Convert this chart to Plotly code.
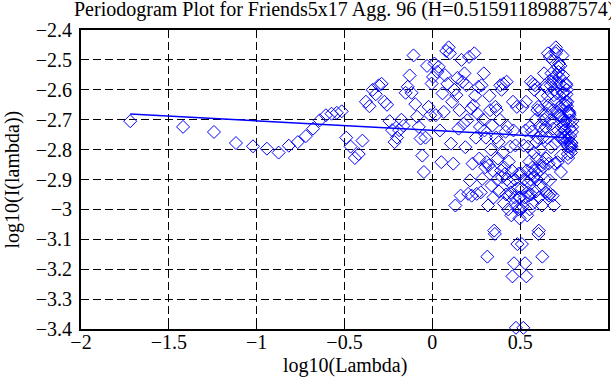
import plotly.graph_objects as go

# log10 of Fourier frequencies in (0, pi]
freq_low = [
    -1.720, -1.419, -1.243, -1.118, -1.021, -0.942, -0.875, -0.817, -0.766, -0.720,
    -0.679, -0.641, -0.606, -0.574, -0.544, -0.516, -0.490, -0.465, -0.441, -0.419,
    -0.398, -0.378, -0.358, -0.340, -0.322, -0.305, -0.289, -0.273, -0.258, -0.243,
    -0.229, -0.215, -0.201, -0.189, -0.176, -0.164, -0.152, -0.140, -0.129, -0.118,
    -0.107, -0.097, -0.087, -0.077, -0.067, -0.057, -0.048, -0.039, -0.030, -0.021,
    -0.012, -0.004, 0.004, 0.012, 0.020, 0.028, 0.036, 0.043, 0.051, 0.058,
    0.065, 0.072, 0.079, 0.086, 0.093, 0.100, 0.106, 0.113, 0.119, 0.125,
    0.131, 0.137, 0.143, 0.149, 0.155, 0.161, 0.166, 0.172, 0.178, 0.183,
    0.188, 0.194, 0.199, 0.204, 0.209, 0.214, 0.220, 0.224, 0.229, 0.234,
    0.239, 0.244, 0.248, 0.253, 0.258, 0.262, 0.267, 0.271, 0.276, 0.280,
    0.284, 0.289, 0.293, 0.297, 0.301, 0.305, 0.309, 0.313, 0.317, 0.321,
    0.325, 0.329, 0.333, 0.337, 0.341, 0.344, 0.348, 0.352, 0.356, 0.359,
    0.363, 0.366, 0.370, 0.373, 0.377, 0.380, 0.384, 0.387, 0.391, 0.394,
    0.397, 0.401, 0.404, 0.407, 0.410, 0.414, 0.417, 0.420, 0.423, 0.426,
    0.429, 0.432, 0.435, 0.438, 0.441, 0.444, 0.447, 0.450, 0.453, 0.456,
    0.459, 0.462, 0.465, 0.468, 0.470, 0.473, 0.476, 0.479, 0.481, 0.484,
    0.487, 0.490, 0.492, 0.495, 0.497,
]
power_low = [
    -2.705, -2.724, -2.741, -2.778, -2.789, -2.797, -2.810, -2.787, -2.775, -2.755,
    -2.730, -2.702, -2.685, -2.680, -2.677, -2.672, -2.760, -2.790, -2.828, -2.815,
    -2.770, -2.640, -2.655, -2.600, -2.615, -2.585, -2.580, -2.640, -2.650, -2.705,
    -2.735, -2.775, -2.760, -2.735, -2.700, -2.720, -2.610, -2.590, -2.552, -2.610,
    -2.485, -2.648, -2.690, -2.724, -2.763, -2.820, -2.875, -2.760, -2.520, -2.657,
    -2.685, -2.579, -2.557, -2.512, -2.685, -2.540, -2.523, -2.736, -2.842, -2.612,
    -2.674, -2.551, -2.470, -2.580, -2.458, -2.478, -2.780, -2.640, -2.847, -2.600,
    -2.987, -2.618, -2.560, -2.730, -2.668, -2.954, -2.500, -2.573, -2.713, -2.545,
    -2.792, -2.585, -2.702, -2.948, -2.490, -2.903, -2.663, -2.954, -2.847, -2.652,
    -2.478, -2.620, -2.760, -2.948, -2.680, -2.590, -2.830, -2.724, -2.943, -2.585,
    -2.898, -2.700, -2.545, -2.736, -2.859, -2.760, -2.842, -3.158, -2.987, -2.853,
    -2.620, -2.668, -2.800, -2.920, -2.720, -2.870, -2.960, -3.071, -3.082, -2.657,
    -2.760, -2.668, -2.900, -2.830, -2.775, -2.940, -2.700, -2.585, -2.870, -2.600,
    -2.892, -2.810, -2.580, -2.980, -2.860, -2.881, -2.740, -2.950, -2.573, -2.900,
    -2.724, -3.000, -2.840, -2.954, -2.910, -2.790, -2.943, -3.020, -2.870, -3.224,
    -2.640, -2.736, -3.180, -2.960, -2.900, -2.786, -3.396, -2.990, -2.657, -3.116,
    -2.930, -3.000, -2.880, -2.960, -3.030,
]
# log10 of Fourier frequencies in (pi, 2*pi) (mirror half of the periodogram)
freq_high = [
    0.797, 0.796, 0.795, 0.793, 0.792, 0.791, 0.789, 0.788, 0.787, 0.785,
    0.784, 0.782, 0.781, 0.780, 0.778, 0.777, 0.776, 0.774, 0.773, 0.771,
    0.770, 0.769, 0.767, 0.766, 0.764, 0.763, 0.761, 0.760, 0.759, 0.757,
    0.756, 0.754, 0.753, 0.751, 0.750, 0.748, 0.747, 0.745, 0.744, 0.742,
    0.741, 0.739, 0.738, 0.736, 0.735, 0.733, 0.732, 0.730, 0.729, 0.727,
    0.726, 0.724, 0.722, 0.721, 0.719, 0.718, 0.716, 0.715, 0.713, 0.711,
    0.710, 0.708, 0.706, 0.705, 0.703, 0.702, 0.700, 0.698, 0.697, 0.695,
    0.693, 0.692, 0.690, 0.688, 0.687, 0.685, 0.683, 0.681, 0.680, 0.678,
    0.676, 0.674, 0.673, 0.671, 0.669, 0.667, 0.666, 0.664, 0.662, 0.660,
    0.658, 0.657, 0.655, 0.653, 0.651, 0.649, 0.647, 0.645, 0.644, 0.642,
    0.640, 0.638, 0.636, 0.634, 0.632, 0.630, 0.628, 0.626, 0.624, 0.622,
    0.620, 0.618, 0.616, 0.614, 0.612, 0.610, 0.608, 0.606, 0.604, 0.602,
    0.600, 0.598, 0.596, 0.594, 0.592, 0.590, 0.587, 0.585, 0.583, 0.581,
    0.579, 0.577, 0.574, 0.572, 0.570, 0.568, 0.566, 0.563, 0.561, 0.559,
    0.556, 0.554, 0.552, 0.549, 0.547, 0.545, 0.542, 0.540, 0.538, 0.535,
    0.533, 0.530, 0.528, 0.525, 0.523, 0.520, 0.518, 0.515, 0.513, 0.510,
    0.508, 0.505, 0.503, 0.500,
]
power_high = [
    -2.705, -2.724, -2.741, -2.778, -2.789, -2.797, -2.810, -2.787, -2.775, -2.755,
    -2.730, -2.702, -2.685, -2.680, -2.677, -2.672, -2.760, -2.790, -2.828, -2.815,
    -2.770, -2.640, -2.655, -2.600, -2.615, -2.585, -2.580, -2.640, -2.650, -2.705,
    -2.735, -2.775, -2.760, -2.735, -2.700, -2.720, -2.610, -2.590, -2.552, -2.610,
    -2.485, -2.648, -2.690, -2.724, -2.763, -2.820, -2.875, -2.760, -2.520, -2.657,
    -2.685, -2.579, -2.557, -2.512, -2.685, -2.540, -2.523, -2.736, -2.842, -2.612,
    -2.674, -2.551, -2.470, -2.580, -2.458, -2.478, -2.780, -2.640, -2.847, -2.600,
    -2.987, -2.618, -2.560, -2.730, -2.668, -2.954, -2.500, -2.573, -2.713, -2.545,
    -2.792, -2.585, -2.702, -2.948, -2.490, -2.903, -2.663, -2.954, -2.847, -2.652,
    -2.478, -2.620, -2.760, -2.948, -2.680, -2.590, -2.830, -2.724, -2.943, -2.585,
    -2.898, -2.700, -2.545, -2.736, -2.859, -2.760, -2.842, -3.158, -2.987, -2.853,
    -2.620, -2.668, -2.800, -2.920, -2.720, -2.870, -2.960, -3.071, -3.082, -2.657,
    -2.760, -2.668, -2.900, -2.830, -2.775, -2.940, -2.700, -2.585, -2.870, -2.600,
    -2.892, -2.810, -2.580, -2.980, -2.860, -2.881, -2.740, -2.950, -2.573, -2.900,
    -2.724, -3.000, -2.840, -2.954, -2.910, -2.790, -2.943, -3.020, -2.870, -3.224,
    -2.640, -2.736, -3.180, -2.960, -2.900, -2.786, -3.396, -2.990, -2.657, -3.116,
    -2.930, -3.000, -2.880, -2.960,
]
# least-squares fit line end points
fit_freq = [-1.720, 0.797]
fit_power = [-2.681, -2.761]

title_text = "Periodogram Plot for Friends5x17 Agg. 96 (H=0.51591189887574)"
x_label = "log10(Lambda)"
y_label = "log10(I(lambda))"
x_tick_vals = [-2, -1.5, -1, -0.5, 0, 0.5, 1]
x_tick_text = ["\u22122", "\u22121.5", "\u22121", "\u22120.5", "0", "0.5", "1"]
y_tick_vals = [-2.4, -2.5, -2.6, -2.7, -2.8, -2.9, -3.0, -3.1, -3.2, -3.3, -3.4]
y_tick_text = ["\u22122.4", "\u22122.5", "\u22122.6", "\u22122.7", "\u22122.8", "\u22122.9",
               "\u22123", "\u22123.1", "\u22123.2", "\u22123.3", "\u22123.4"]

FONT = "Liberation Serif"
BLUE = "#0000ff"

fig = go.Figure()
fig.add_trace(go.Scatter(
    x=freq_low + freq_high, y=power_low + power_high, mode="markers",
    marker=dict(symbol="diamond-open", size=10, color=BLUE, line=dict(width=1, color=BLUE)),
    cliponaxis=False, showlegend=False, hoverinfo="skip",
))
fig.add_trace(go.Scatter(
    x=fit_freq, y=fit_power, mode="lines",
    line=dict(color=BLUE, width=1.5), showlegend=False, hoverinfo="skip",
))

axis_common = dict(
    showline=True, linecolor="black", linewidth=2, mirror="allticks",
    ticks="inside", ticklen=6, tickwidth=1, tickcolor="black",
    showgrid=True, gridcolor="black", gridwidth=1, griddash="8px,4px",
    zeroline=False, automargin=False,
    tickfont=dict(family=FONT, size=20, color="black"),
)
fig.update_xaxes(range=[-2, 1], tickvals=x_tick_vals, ticktext=x_tick_text,
                 ticklabelstandoff=-6, **axis_common)
fig.update_yaxes(range=[-3.4, -2.4], tickvals=y_tick_vals, ticktext=y_tick_text,
                 ticklabelstandoff=3, **axis_common)

fig.update_layout(
    width=611, height=385,
    margin=dict(l=81, r=3, t=30, b=56, autoexpand=False),
    paper_bgcolor="white", plot_bgcolor="white",
    font=dict(family=FONT, size=20, color="black"),
    annotations=[
        dict(text=title_text, xref="paper", yref="paper", x=0.5, y=1,
             xanchor="center", yanchor="middle", yshift=21, showarrow=False,
             font=dict(family=FONT, size=20, color="black")),
        dict(text=x_label, xref="paper", yref="paper", x=0.5, y=0,
             xanchor="center", yanchor="middle", yshift=-36, showarrow=False,
             font=dict(family=FONT, size=20, color="black")),
        dict(text=y_label, xref="paper", yref="paper", x=0, y=0.5, textangle=-90,
             xanchor="center", yanchor="middle", xshift=-69, showarrow=False,
             font=dict(family=FONT, size=20, color="black")),
    ],
)

fig.write_html("out.html", config={"displayModeBar": False},
               post_script="document.body.style.margin='0';")
